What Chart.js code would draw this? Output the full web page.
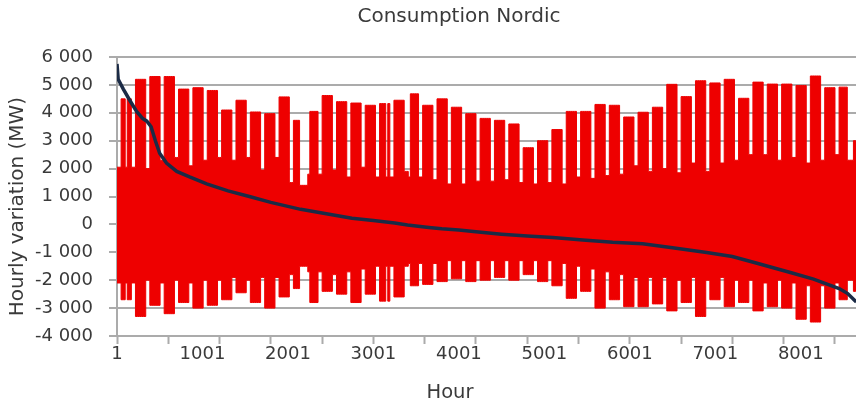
<!DOCTYPE html>
<html>
<head>
<meta charset="utf-8">
<script src="https://cdn.jsdelivr.net/npm/chart.js@4.4.0/dist/chart.umd.min.js"></script>
<style>
html,body{margin:0;padding:0;background:#ffffff;}
#wrap{width:856px;height:408px;position:relative;}
</style>
</head>
<body>
<div id="wrap"><canvas id="c" width="856" height="408"></canvas></div>
<script>
// ---- texts ----
const chartTitle = 'Consumption Nordic';
const xAxisTitle = 'Hour';
const yAxisTitle = 'Hourly variation (MW)';

// ---- axis ticks ----
const xTickValues = [1, 1001, 2001, 3001, 4001, 5001, 6001, 7001, 8001];
const xTickLabels = ['1', '1001', '2001', '3001', '4001', '5001', '6001', '7001', '8001'];
const xMarkValues = [1, 601, 1201, 1801, 2401, 3001, 3601, 4201, 4801, 5401, 6001, 6601, 7201, 7801, 8401];
const yTickValues = [-4000, -3000, -2000, -1000, 0, 1000, 2000, 3000, 4000, 5000, 6000];
const yTickLabels = ['-4 000', '-3 000', '-2 000', '-1 000', '0', '1 000', '2 000', '3 000', '4 000', '5 000', '6 000'];

// ---- hourly variation (red): per week (Mon-Fri) daily peak / trough ----
const weekdayHigh = [4500,5200,5300,5300,4850,4900,4800,4100,4450,4030,3970,4570,3730,4050,4620,4400,4350,4270,4330,4450,4680,4270,4500,4200,3970,3800,3730,3600,2750,3000,3400,4050,4050,4300,4270,3850,4020,4200,5020,4580,5150,5070,5200,4520,5100,5030,5030,4980,5320,4900,4920,3000];
const weekdayLow  = [-2700,-3300,-2900,-3200,-2800,-3000,-2900,-2700,-2450,-2800,-3000,-2600,-2300,-2800,-2400,-2500,-2800,-2500,-2750,-2600,-2200,-2150,-2050,-1950,-2050,-2000,-1900,-2000,-1800,-2050,-2200,-2650,-2400,-3000,-2700,-2950,-2950,-2850,-3100,-2800,-3300,-2700,-2950,-2800,-3100,-2950,-3000,-3400,-3500,-3000,-2700,-2400];
// weekend / holiday daily peak / trough per week
const weekendHigh = [2050,2000,2300,2400,2100,2300,2400,2300,2400,1950,2400,1500,1400,1800,1950,1700,2050,1700,1700,1900,1700,1600,1450,1450,1550,1550,1600,1500,1450,1500,1450,1700,1650,1750,1800,2100,1900,2000,1850,2200,1900,2200,2300,2500,2500,2300,2400,2200,2300,2500,2300,2000];
const weekendLow  = [-2100,-2000,-2100,-2000,-2100,-2000,-2000,-1900,-2000,-1900,-1900,-1800,-1500,-1700,-1800,-1700,-1600,-1500,-1500,-1500,-1400,-1400,-1300,-1300,-1300,-1300,-1300,-1300,-1300,-1300,-1400,-1500,-1600,-1700,-1800,-1900,-1900,-1900,-2000,-1900,-2000,-1900,-2000,-2000,-2100,-2000,-2100,-2200,-2200,-2100,-2000,-2000];
// day-of-year indices of public holidays (day 0 = Fri 1 Jan)
const holidayDays = [0, 5, 90, 91, 94, 132, 143, 357];
const firstMondayDay = 3;
const daysInYear = 365;

// ---- sorted (duration) curve, navy ----
const sortedHours  = [1,15,75,150,230,300,350,400,450,500,580,700,850,1050,1300,1550,1800,2150,2450,2750,3000,3250,3400,3650,3800,4000,4200,4500,4800,5100,5450,5800,6150,6500,6900,7200,7500,7900,8150,8300,8450,8550,8650,8760];
const sortedValues = [5750,5200,4850,4450,4050,3800,3700,3500,3000,2550,2200,1900,1700,1450,1200,1000,790,540,380,220,140,50,-20,-110,-160,-200,-260,-350,-420,-470,-560,-640,-690,-840,-1010,-1150,-1400,-1740,-1960,-2130,-2300,-2480,-2780,-3550];

// ---- build library tables ----
const upperPoints = [];
const lowerPoints = [];
for (let d = 0; d < daysInYear; d++) {
  let w, weekend;
  if (d < firstMondayDay) { w = 0; weekend = true; }
  else {
    w = Math.floor((d - firstMondayDay) / 7);
    const dow = (d - firstMondayDay) % 7;
    weekend = dow >= 5 || holidayDays.includes(d);
  }
  upperPoints.push({x: d * 24 + 1, y: weekend ? weekendHigh[w] : weekdayHigh[w]});
  lowerPoints.push({x: d * 24 + 1, y: weekend ? weekendLow[w] : weekdayLow[w]});
}
upperPoints.push({x: daysInYear * 24, y: upperPoints[upperPoints.length - 1].y});
lowerPoints.push({x: daysInYear * 24, y: lowerPoints[lowerPoints.length - 1].y});
const navyPoints = sortedHours.map((h, i) => ({x: h, y: sortedValues[i]}));

const allXTicks = Array.from(new Set([...xTickValues, ...xMarkValues])).sort((a, b) => a - b);

const gridGray = '#ababab';
const textColor = '#3a3a3a';
const red = '#ee0000';
const fontFamily = '"DejaVu Sans", Verdana, sans-serif';

const titlePlugin = {
  id: 'manualTitles',
  afterDraw(chart) {
    const ctx = chart.ctx;
    const area = chart.chartArea;
    ctx.save();
    ctx.fillStyle = textColor;
    ctx.textAlign = 'center';
    ctx.textBaseline = 'middle';
    ctx.font = '20px ' + fontFamily;
    ctx.fillText(chartTitle, 459, 17);
    ctx.font = '19.5px ' + fontFamily;
    ctx.fillText(xAxisTitle, 450, 393);
    ctx.font = '20px ' + fontFamily;
    ctx.translate(18, (area.top + area.bottom) / 2 + 10);
    ctx.rotate(-Math.PI / 2);
    ctx.fillText(yAxisTitle, 0, 0);
    ctx.restore();
  }
};

new Chart(document.getElementById('c'), {
  type: 'line',
  data: {
    datasets: [
      {
        label: 'Sorted',
        data: navyPoints,
        borderColor: '#1b2b46',
        borderWidth: 3.5,
        pointRadius: 0,
        tension: 0,
        fill: false,
        order: 0
      },
      {
        label: 'Hourly variation (upper)',
        data: upperPoints,
        borderColor: red,
        backgroundColor: red,
        borderWidth: 1,
        pointRadius: 0,
        stepped: 'after',
        fill: '+1',
        order: 1
      },
      {
        label: 'Hourly variation (lower)',
        data: lowerPoints,
        borderColor: red,
        backgroundColor: red,
        borderWidth: 1,
        pointRadius: 0,
        stepped: 'after',
        fill: false,
        order: 2
      }
    ]
  },
  options: {
    responsive: false,
    animation: false,
    parsing: false,
    normalized: true,
    devicePixelRatio: 1,
    layout: { padding: { top: 57, right: 0, bottom: 42, left: 0 } },
    plugins: { legend: { display: false }, tooltip: { enabled: false }, title: { display: false }, filler: { propagate: false } },
    scales: {
      x: {
        type: 'linear',
        min: 1,
        max: 8647,
        afterBuildTicks: (scale) => { scale.ticks = allXTicks.map(v => ({value: v})); },
        afterFit: (scale) => { scale.height = 30; },
        ticks: {
          autoSkip: false,
          maxRotation: 0,
          minRotation: 0,
          padding: 0,
          color: textColor,
          font: { family: fontFamily, size: 18 },
          callback: (v) => { const i = xTickValues.indexOf(v); return i >= 0 ? xTickLabels[i] : ''; }
        },
        grid: {
          drawOnChartArea: false,
          drawTicks: true,
          tickLength: 8,
          tickWidth: 2,
          tickColor: (ctx) => (ctx.tick && xMarkValues.includes(ctx.tick.value)) ? gridGray : 'rgba(0,0,0,0)'
        },
        border: { display: true, color: gridGray, width: 2 }
      },
      y: {
        type: 'linear',
        min: -4000,
        max: 6000,
        afterBuildTicks: (scale) => { scale.ticks = yTickValues.map(v => ({value: v})); },
        afterFit: (scale) => { scale.width = 117; },
        ticks: {
          padding: 16,
          color: textColor,
          font: { family: fontFamily, size: 18 },
          callback: (v) => { const i = yTickValues.indexOf(v); return i >= 0 ? yTickLabels[i] : ''; }
        },
        grid: { color: gridGray, lineWidth: 2, tickLength: 8, drawTicks: true },
        border: { display: true, color: gridGray, width: 2 },
        title: { display: false }
      }
    }
  },
  plugins: [titlePlugin]
});
</script>
</body>
</html>
